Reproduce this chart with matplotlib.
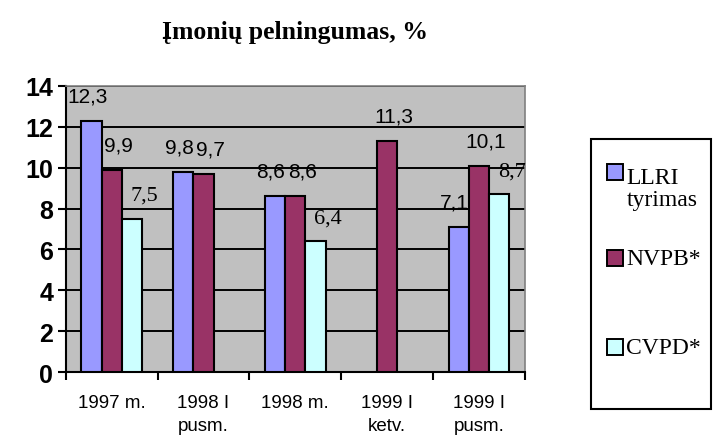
import numpy as np
import matplotlib
matplotlib.use("Agg")
import matplotlib.pyplot as plt
from matplotlib.patches import Rectangle

# Duomenys
kategorijos = ["1997 m.", "1998 I\npusm.", "1998 m.", "1999 I\nketv.", "1999 I\npusm."]
llri = [12.3, 9.8, 8.6, np.nan, 7.1]
nvpb = [9.9, 9.7, 8.6, 11.3, 10.1]
cvpd = [7.5, np.nan, 6.4, np.nan, 8.7]
serijos = ["LLRI\ntyrimas", "NVPB*", "CVPD*"]
spalvos = ["#9999FF", "#993366", "#CCFFFF"]

fig = plt.figure(figsize=(7.15, 4.39), dpi=100)
ax = fig.add_axes([0.092, 0.150, 0.642, 0.652])
ax.set_facecolor("#C0C0C0")

x = np.arange(len(kategorijos))
w = 0.22
reiksmes = [llri, nvpb, cvpd]
# etikeciu poslinkis (taskais) ir sriftas kiekvienai serijai
posl = [(-3, 18), (5, 18), (9, 17)]
srift = ["Liberation Sans", "Liberation Sans", "Liberation Serif"]

for i, (vals, col) in enumerate(zip(reiksmes, spalvos)):
    pos = x + (i - 1) * w
    ax.bar(pos, vals, w, color=col, edgecolor="black", linewidth=1.5, zorder=3)
    for p, v in zip(pos, vals):
        if np.isnan(v):
            continue
        ax.annotate(("%.1f" % v).replace(".", ","), (p, v), xytext=posl[i],
                    textcoords="offset points", ha="center", va="center",
                    fontsize=15 if i < 2 else 16, family=srift[i], zorder=4)

ax.set_ylim(0, 14)
ax.set_xlim(-0.5, len(kategorijos) - 0.5)
ax.set_yticks(range(0, 15, 2))
ax.set_yticklabels([str(t) for t in range(0, 15, 2)], fontsize=18,
                   fontweight="bold", family="Liberation Sans")
ax.yaxis.grid(True, color="black", linewidth=1.4, zorder=1)
ax.set_axisbelow(True)

ax.set_xticks(np.arange(-0.5, len(kategorijos), 1.0))
ax.set_xticklabels([])
ax.set_xticks(x, minor=True)
ax.set_xticklabels(kategorijos, minor=True, fontsize=13.5, family="Liberation Sans",
                   linespacing=1.45)
ax.tick_params(axis="x", which="minor", length=0, pad=16)
ax.tick_params(axis="x", which="major", length=6, width=1.5, direction="out")
ax.tick_params(axis="y", length=6, width=1.5, direction="out", pad=3)

for s in ["left", "bottom"]:
    ax.spines[s].set_linewidth(1.5)
    ax.spines[s].set_color("black")
for s in ["top", "right"]:
    ax.spines[s].set_linewidth(1.2)
    ax.spines[s].set_color("#808080")

fig.text(0.413, 0.925, "Įmonių pelningumas, %", ha="center", va="center",
         fontsize=18.5, fontweight="bold", family="Liberation Serif")

# Legenda
fig.patches.append(Rectangle((0.826, 0.067), 0.168, 0.615, transform=fig.transFigure,
                             facecolor="white", edgecolor="black", linewidth=1.5))
leg_y = [0.606, 0.410, 0.207]
for lab, col, yy in zip(serijos, spalvos, leg_y):
    fig.patches.append(Rectangle((0.849, yy - 0.018), 0.0224, 0.036, transform=fig.transFigure,
                                 facecolor=col, edgecolor="black", linewidth=1.4))
    fig.text(0.876, yy + (0.012 if "\n" in lab else 0), lab, ha="left",
             va="top" if "\n" in lab else "center",
             fontsize=17, family="Liberation Serif", linespacing=1.1,
             transform=fig.transFigure)

fig.savefig("out.png", dpi=100)
